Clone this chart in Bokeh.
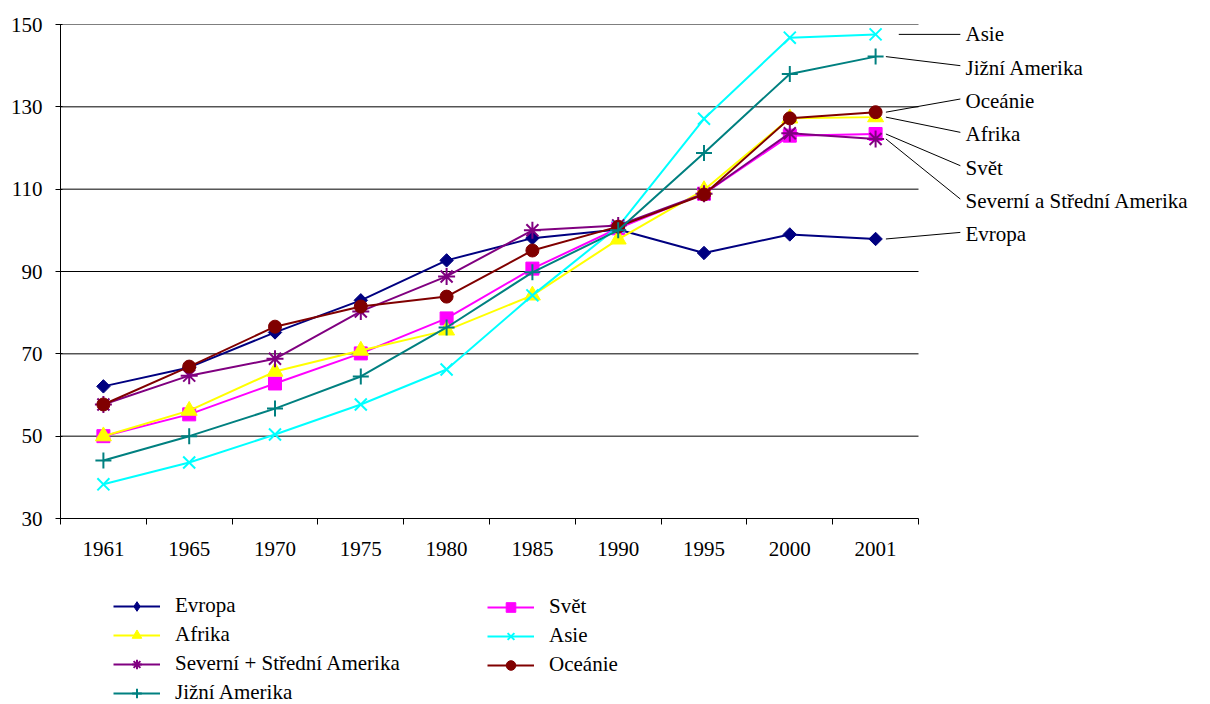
from bokeh.plotting import figure
from bokeh.models import Range1d, FixedTicker, Label, Arrow, Legend, LegendItem
from bokeh.layouts import column
from bokeh.embed import file_html
from bokeh.resources import INLINE
import math

years = ["1961", "1965", "1970", "1975", "1980", "1985", "1990", "1995", "2000", "2001"]
y_ticks = [30, 50, 70, 90, 110, 130, 150]

evropa = [62.1, 66.7, 75.2, 83.0, 92.7, 98.1, 100.2, 94.5, 99.0, 97.9]
svet = [50.0, 55.3, 62.8, 70.1, 78.6, 90.7, 100.5, 108.9, 123.0, 123.4]
afrika = [50.0, 56.2, 65.7, 70.8, 75.7, 84.2, 97.8, 109.8, 127.2, 127.5]
asie = [38.3, 43.6, 50.4, 57.7, 66.2, 84.2, 100.9, 127.1, 146.8, 147.6]
severni = [57.7, 64.7, 68.8, 80.3, 88.8, 100.0, 101.2, 108.9, 123.6, 122.2]
oceanie = [57.7, 66.9, 76.6, 81.5, 83.9, 95.1, 100.9, 108.7, 127.2, 128.7]
jizni = [44.1, 50.0, 56.7, 64.5, 76.4, 89.8, 100.0, 118.8, 138.0, 142.2]

legend_names = ["Evropa", "Svět", "Afrika", "Asie", "Severní + Střední Amerika", "Oceánie", "Jižní Amerika"]
end_names = ["Evropa", "Svět", "Afrika", "Asie", "Severní a Střední Amerika", "Oceánie", "Jižní Amerika"]

series = [evropa, svet, afrika, asie, severni, oceanie, jizni]
colors = ["#000080", "#FF00FF", "#FFFF00", "#00FFFF", "#800080", "#800000", "#008080"]
markers = ["square", "square", "triangle", "x", "asterisk", "circle", "cross"]
legend_markers = ["diamond", "square", "triangle", "x", "asterisk", "circle", "cross"]
angles = [math.pi / 4, 0, 0, 0, 0, 0, 0]
sizes = [9.5, 13, 16, 17, 17, 13, 16]
legend_sizes = [17, 14, 16, 17, 17, 14, 16]

FONT = "Liberation Serif"
FS = "21px"

W = 1208
H_MAIN = 575
H_LEG = 129
LEFT, TOP, FRAME_W, FRAME_H = 60, 24, 858, 494
n = len(years)
unit = FRAME_W / n
x_end = -0.5 + (W - LEFT) / unit

p = figure(width=W, height=H_MAIN, output_backend="svg", toolbar_location=None,
           x_range=Range1d(-0.5, x_end), y_range=Range1d(y_ticks[0], y_ticks[-1]),
           min_border_left=LEFT, min_border_right=0, min_border_top=TOP,
           min_border_bottom=H_MAIN - TOP - FRAME_H)
p.outline_line_color = None
p.background_fill_color = "white"
p.border_fill_color = "white"

# axes
p.xaxis.ticker = FixedTicker(ticks=list(range(n)), minor_ticks=[i - 0.5 for i in range(n + 1)])
p.xaxis.bounds = (-0.5, n - 0.5)
p.xaxis.major_label_overrides = {i: y for i, y in enumerate(years)}
p.xaxis.major_tick_out = 0
p.xaxis.major_tick_in = 0
p.xaxis.minor_tick_out = 6
p.xaxis.minor_tick_in = 0
p.xaxis.minor_tick_line_color = "black"
p.xaxis.major_label_standoff = 17

p.yaxis.ticker = FixedTicker(ticks=y_ticks)
p.yaxis.major_tick_out = 5
p.yaxis.major_tick_in = 2
p.yaxis.minor_tick_line_color = None
p.yaxis.major_label_standoff = 13

for ax in (p.xaxis, p.yaxis):
    ax.axis_line_color = "black"
    ax.major_tick_line_color = "black"
    ax.major_label_text_font = FONT
    ax.major_label_text_font_size = FS
    ax.major_label_text_color = "black"

p.xgrid.visible = False
p.ygrid.visible = False
grid_vals = y_ticks[1:]
p.segment(x0=[-0.5] * len(grid_vals), y0=grid_vals, x1=[n - 0.5] * len(grid_vals), y1=grid_vals,
          line_color="black", line_width=1)

xs = list(range(n))
for vals, c, m, a, s in zip(series, colors, markers, angles, sizes):
    p.line(xs, vals, line_color=c, line_width=2)
    p.scatter(xs, vals, marker=m, size=s, angle=a, fill_color=c, line_color=c,
              line_width=2 if m in ("x", "asterisk", "cross") else 1)

# end labels with leader lines
last = n - 1
order = sorted(range(len(series)), key=lambda i: -series[i][last])
top = series[order[0]][last]
label_x = -0.5 + (965 - LEFT) / unit
for k, i in enumerate(order):
    ly = top - 8.1 * k
    off = 0.27 if k == 0 else 0.12
    yv = series[i][last]
    p.add_layout(Arrow(end=None, x_start=last + off, y_start=yv,
                       x_end=label_x - 0.06, y_end=ly + (0 if abs(ly - yv) < 0.1 else 0.5),
                       line_color="black", line_width=1))
    p.add_layout(Label(x=label_x, y=ly, text=end_names[i], text_font=FONT, text_font_size=FS,
                       text_baseline="middle", text_align="left", text_color="black"))

# legend figure (its renderers lie outside its view; only the legend shows)
q = figure(width=W, height=H_LEG, output_backend="svg", toolbar_location=None,
           x_range=Range1d(0, 1), y_range=Range1d(0, 1), x_axis_type=None, y_axis_type=None,
           min_border_left=LEFT, min_border_right=0, min_border_top=0, min_border_bottom=0)
q.outline_line_color = None
q.xgrid.visible = False
q.ygrid.visible = False
q.background_fill_color = "white"
q.border_fill_color = "white"

items = []
for name, vals, c, m, s in zip(legend_names, series, colors, legend_markers, legend_sizes):
    lr = q.line(xs, vals, line_color=c, line_width=2)
    sr = q.scatter(xs, vals, marker=m, size=s, fill_color=c, line_color=c,
                   line_width=2 if m in ("x", "asterisk", "cross") else 1)
    items.append(LegendItem(label=name, renderers=[lr, sr]))

ROW_H, ROW_GAP = 24, 4

def make_legend(its, x_left, top_px):
    height = len(its) * ROW_H + (len(its) - 1) * ROW_GAP
    lg = Legend(items=its, location=(x_left, H_LEG - top_px - height))
    lg.label_text_font = FONT
    lg.label_text_font_size = FS
    lg.label_text_color = "black"
    lg.glyph_width = 47
    lg.glyph_height = ROW_H
    lg.label_height = ROW_H
    lg.spacing = ROW_GAP
    lg.padding = 0
    lg.margin = 0
    lg.label_standoff = 15
    lg.border_line_color = None
    lg.background_fill_alpha = 0
    return lg

q.add_layout(make_legend([items[0], items[2], items[4], items[6]], 113 - LEFT, 22), "center")
q.add_layout(make_legend([items[1], items[3], items[5]], 487 - LEFT, 22), "center")

layout = column(p, q, spacing=0)
open("out.html", "w").write(file_html(layout, INLINE))
